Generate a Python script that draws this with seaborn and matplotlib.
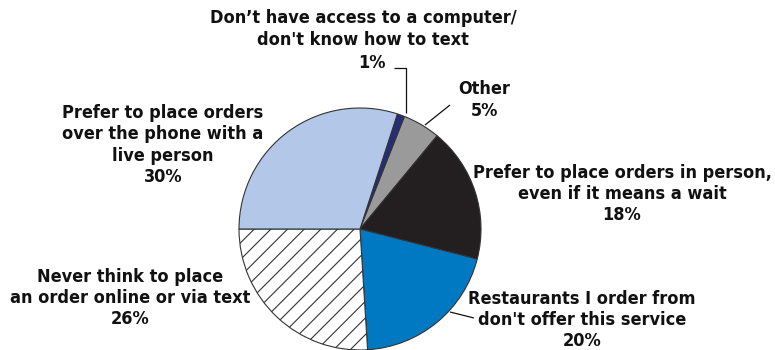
import matplotlib
matplotlib.use("Agg")
import matplotlib.pyplot as plt
from matplotlib import font_manager
import seaborn as sns

# ---- data ----
categories = [
    "Don\u2019t have access to a computer/\ndon't know how to text",
    "Other",
    "Prefer to place orders in person,\neven if it means a wait",
    "Restaurants I order from\ndon't offer this service",
    "Never think to place\nan order online or via text",
    "Prefer to place orders\nover the phone with a\nlive person",
]
values = [1, 5, 18, 20, 26, 30]
colors = ["#252C78", "#9A9A9A", "#231F20", "#0079C2", "#FFFFFF", "#B3C8E8"]
hatches = [None, None, None, None, "//", None]

sns.set_theme(style="white")
plt.rcParams["font.family"] = ["DejaVu Sans"]
plt.rcParams["hatch.linewidth"] = 0.8
plt.rcParams["hatch.color"] = "#222222"

W, H = 775, 350
fig = plt.figure(figsize=(W / 100, H / 100), dpi=100)
ax = fig.add_axes([0, 0, 1, 1])

cx, cy, r = 360, H - 229, 121
wedges, _ = ax.pie(values, colors=colors, startangle=72, counterclock=False,
                   center=(cx, cy), radius=r, frame=True,
                   wedgeprops=dict(edgecolor="#333333", linewidth=0.8))
for w, h in zip(wedges, hatches):
    if h:
        w.set_hatch(h)
ax.set_xlim(0, W)
ax.set_ylim(0, H)
ax.axis("off")

tkw = dict(fontsize=13, fontweight="bold", fontstretch="condensed",
           ha="center", va="center", color="#111111", linespacing=1.22)

def T(x, y, s, **k):
    d = dict(tkw); d.update(k)
    ax.text(x, H - y, s, **d)

labels = [f"{c}\n{v}%" for c, v in zip(categories, values)]
T(363, 29, categories[0])
T(372, 63, f"{values[0]}%")
T(484, 100, labels[1])
T(622, 194, labels[2])
T(582, 320, labels[3])
T(130, 298, labels[4])
T(163, 145, labels[5])

def L(pts):
    xs = [p[0] for p in pts]; ys = [H - p[1] for p in pts]
    ax.plot(xs, ys, color="#111111", lw=0.9, solid_capstyle="butt")

L([(394, 68), (406, 68), (406, 113)])
L([(425, 125), (450, 105)])
L([(450, 312), (474, 318)])

fig.savefig("out.png", dpi=100)
